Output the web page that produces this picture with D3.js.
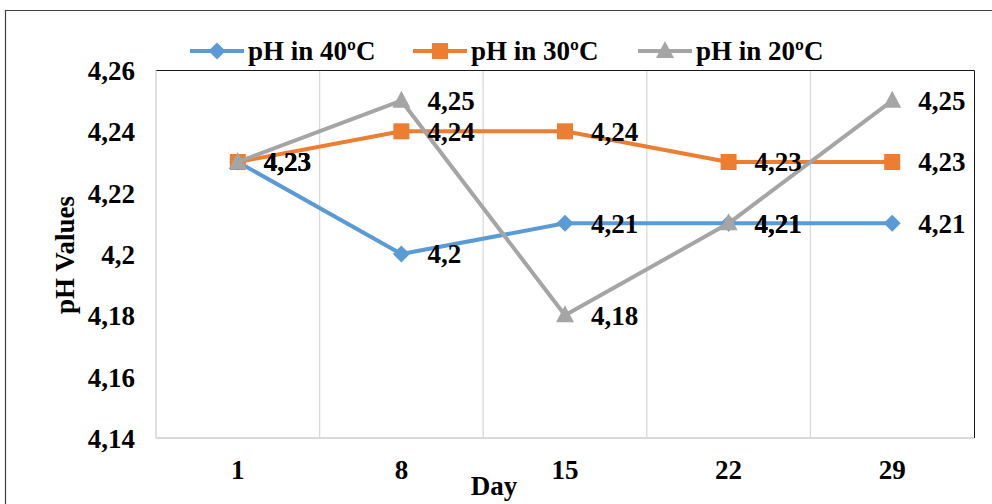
<!DOCTYPE html>
<html>
<head>
<meta charset="UTF-8">
<script src="https://d3js.org/d3.v7.min.js"></script>
<style>
  body { margin: 0; background: #fff; }
  text { font-family: "Liberation Serif", "Times New Roman", serif; font-weight: bold; fill: #000; }
</style>
</head>
<body>
<svg width="992" height="504"></svg>
<script>
const days = ["1", "8", "15", "22", "29"];
const ph40 = [4.23, 4.20, 4.21, 4.21, 4.21];
const ph30 = [4.23, 4.24, 4.24, 4.23, 4.23];
const ph20 = [4.23, 4.25, 4.18, 4.21, 4.25];
const yTicks = [4.14, 4.16, 4.18, 4.20, 4.22, 4.24, 4.26];

const series = [
  { name: "pH in 40ºC", values: ph40, color: "#5b9bd5", marker: "diamond" },
  { name: "pH in 30ºC", values: ph30, color: "#ed7d31", marker: "square" },
  { name: "pH in 20ºC", values: ph20, color: "#a5a5a5", marker: "triangle" }
];

const svg = d3.select("svg");
const fmt = v => String(+v.toFixed(2)).replace(".", ",");
const fs = "27px";

// outer frame
svg.append("path").attr("d", "M5.5,504 V10.5 H992")
  .attr("fill", "none").attr("stroke", "#404040").attr("stroke-width", 1.2);

const pLeft = 156, pRight = 974, pTop = 70, pBottom = 438;
const x = d3.scaleBand().domain(days).range([pLeft, pRight]);
const y = d3.scaleLinear().domain([4.14, 4.26]).range([pBottom, pTop]);

// vertical gridlines between categories
svg.append("g").selectAll("line").data(days.slice(1)).join("line")
  .attr("x1", d => x(d)).attr("x2", d => x(d))
  .attr("y1", pTop).attr("y2", pBottom)
  .attr("stroke", "#d9d9d9").attr("stroke-width", 1.3);

// plot border
svg.append("path").attr("d", `M${pLeft},${pTop}.5 H${pRight}.5 V${pBottom}`)
  .attr("fill", "none").attr("stroke", "#1a1a1a").attr("stroke-width", 1);
svg.append("line").attr("x1", pLeft).attr("x2", pLeft).attr("y1", pTop).attr("y2", pBottom)
  .attr("stroke", "#bfbfbf").attr("stroke-width", 1);
svg.append("line").attr("x1", pLeft).attr("x2", pRight).attr("y1", pBottom).attr("y2", pBottom)
  .attr("stroke", "#d9d9d9").attr("stroke-width", 2);

// y axis
const yAxis = svg.append("g").attr("transform", `translate(${pLeft},0)`)
  .call(d3.axisLeft(y).tickValues(yTicks).tickSize(0).tickPadding(21).tickFormat(fmt));
yAxis.select(".domain").remove();
yAxis.selectAll("text").style("font-size", fs).attr("dy", "0.35em");

// x axis
const xAxis = svg.append("g").attr("transform", `translate(0,${pBottom})`)
  .call(d3.axisBottom(x).tickSize(0).tickPadding(27));
xAxis.select(".domain").remove();
xAxis.selectAll("text").style("font-size", fs).attr("dy", "0.5em");

// axis titles
svg.append("text").attr("x", 494).attr("y", 495).attr("text-anchor", "middle")
  .style("font-size", fs).text("Day");
svg.append("text").attr("transform", "translate(74,255) rotate(-90)")
  .attr("text-anchor", "middle").style("font-size", fs).text("pH Values");

function drawMarker(g, type, color) {
  if (type === "diamond") {
    g.append("path").attr("d", "M0,-8.5 L8.5,0 L0,8.5 L-8.5,0 Z").attr("fill", color);
  } else if (type === "square") {
    g.append("rect").attr("x", -8).attr("y", -8).attr("width", 16).attr("height", 16).attr("fill", color);
  } else {
    g.append("path").attr("d", "M0,-10 L9,7 L-9,7 Z").attr("fill", color);
  }
}

const cx = d => x(d) + x.bandwidth() / 2;
const line = d3.line().x((v, i) => cx(days[i])).y(v => y(v));

series.forEach(s => {
  svg.append("path").datum(s.values).attr("d", line)
    .attr("fill", "none").attr("stroke", s.color).attr("stroke-width", 4)
    .attr("stroke-linejoin", "round");
  s.values.forEach((v, i) => {
    const g = svg.append("g").attr("transform", `translate(${cx(days[i])},${y(v)})`);
    drawMarker(g, s.marker, s.color);
  });
});

// data labels
series.forEach(s => {
  s.values.forEach((v, i) => {
    svg.append("text").attr("x", cx(days[i]) + 26).attr("y", y(v)).attr("dy", "0.35em")
      .style("font-size", fs).text(fmt(v));
  });
});

// legend
const legendX = [190, 413, 638];
series.forEach((s, i) => {
  const g = svg.append("g").attr("transform", `translate(${legendX[i]},51)`);
  g.append("line").attr("x1", 0).attr("x2", 54).attr("stroke", s.color).attr("stroke-width", 4);
  const m = g.append("g").attr("transform", "translate(27,0)");
  drawMarker(m, s.marker, s.color);
  g.append("text").attr("x", 58).attr("dy", "0.35em").style("font-size", fs).text(s.name);
});
</script>
</body>
</html>
